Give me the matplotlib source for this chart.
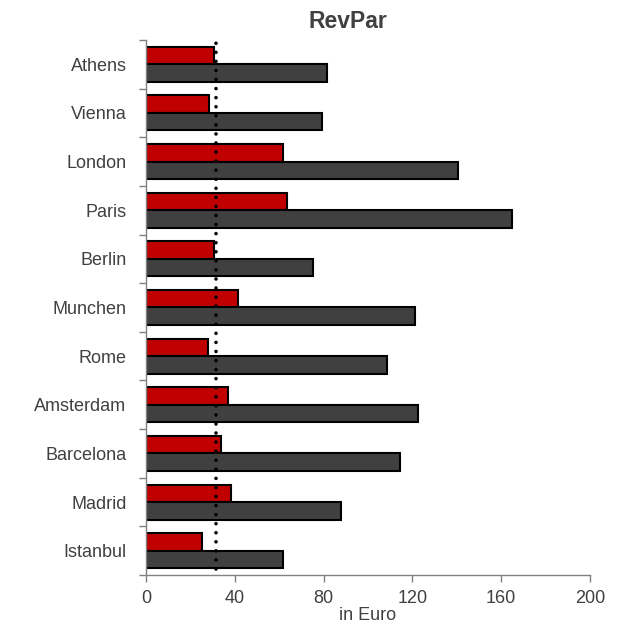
import matplotlib
matplotlib.use("Agg")
import matplotlib.pyplot as plt
import numpy as np

cities = ["Athens", "Vienna", "London", "Paris", "Berlin", "Munchen", "Rome",
          "Amsterdam", "Barcelona", "Madrid", "Istanbul"]
series_red = [30.8, 28.4, 61.9, 63.7, 30.8, 41.4, 27.8, 37.0, 33.9, 38.1, 25.4]
series_gray = [81.7, 79.3, 140.4, 164.8, 75.4, 121.3, 108.5, 122.3, 114.5, 88.0, 61.7]
reference_value = 31.6
x_ticks = [0, 40, 80, 120, 160, 200]

plt.rcParams['font.family'] = ['Liberation Sans', 'DejaVu Sans']
txt = '#404040'

fig = plt.figure(figsize=(6.3, 6.3), dpi=100)
ax = fig.add_axes([146/630, 1-575/630, (590-146)/630, (575-40)/630])

n = len(cities)
centers = np.arange(n)[::-1] + 0.5
h = 0.36
ax.barh(centers + h/2, series_red, height=h, color='#C00000', edgecolor='black', linewidth=1.5)
ax.barh(centers - h/2, series_gray, height=h, color='#404040', edgecolor='black', linewidth=1.5)

ax.plot([reference_value, reference_value], [0.12, n + 0.1], color='black',
        linestyle=(0, (0.01, 2.5)), linewidth=2.6, dash_capstyle='round',
        solid_capstyle='round', clip_on=False, zorder=5)

ax.set_xlim(0, 200)
ax.set_ylim(0, n)
ax.set_xticks(x_ticks)
ax.set_xticklabels([str(t) for t in x_ticks], fontsize=13, color=txt)
ax.set_yticks(centers)
ax.set_yticklabels(cities, fontsize=13, color=txt)
ax.set_yticks(np.arange(n + 1), minor=True)
ax.tick_params(axis='y', which='major', length=0, pad=14)
ax.tick_params(axis='y', which='minor', length=5, width=1, color='#808080', direction='out')
ax.tick_params(axis='x', which='major', length=5, width=1, color='#808080', direction='out', pad=6)

for s in ['top', 'right']:
    ax.spines[s].set_visible(False)
for s in ['left', 'bottom']:
    ax.spines[s].set_color('#808080')
    ax.spines[s].set_linewidth(1)

ax.set_xlabel('in Euro', fontsize=13, color=txt, labelpad=0)
fig.text(348/630, 1-21/630, 'RevPar', fontsize=16.5, fontweight='bold', color=txt,
         ha='center', va='center')

fig.savefig('out.png', dpi=100)
